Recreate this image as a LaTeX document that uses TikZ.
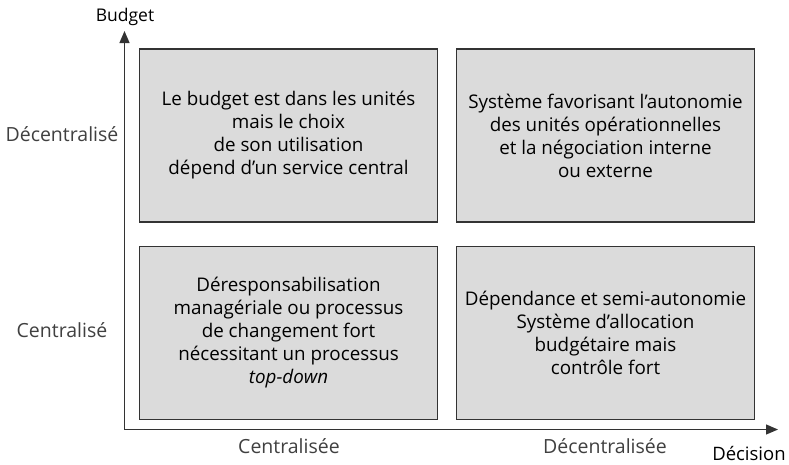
\documentclass[tikz,border=0pt]{standalone}
\usepackage{fontspec}
\setmainfont{Open Sans}
\usetikzlibrary{arrows.meta}
\begin{document}
\begin{tikzpicture}[x=1pt,y=-1pt,
  quad/.style={draw=black!80,line width=1.3pt,fill=black!14,minimum width=298pt,minimum height=173pt,align=center,font=\fontsize{18.8}{23}\selectfont,inner sep=0pt},
  axlab/.style={font=\fontsize{19.5}{20}\selectfont,text=black!75},
  axname/.style={font=\fontsize{17.5}{18}\selectfont,text=black},
  axis/.style={draw=black!80,line width=1.2pt,-{Triangle[length=12pt,width=10pt]}}]
\useasboundingbox (0,0) rectangle (789,464);
\coordinate (O) at (124.5,429.5);
\coordinate (ytip) at (124.5,31);
\coordinate (xtip) at (778,429.5);
\draw[axis] (O) -- (ytip);
\draw[axis] (O) -- (xtip);
\node[quad] (tl) at (288.5,135.5) {Le budget est dans les unités\\mais le choix\\de son utilisation\\dépend d’un service central};
\node[quad] (tr) at (605.5,135.5) {Système favorisant l’autonomie\\des unités opérationnelles\\et la négociation interne\\ou externe};
\node[quad] (bl) at (288.5,333) {Déresponsabilisation\\managériale ou processus\\de changement fort\\nécessitant un processus\\\textit{top-down}};
\node[quad] (br) at (605.5,333) {Dépendance et semi-autonomie\\Système d’allocation\\budgétaire mais\\contrôle fort};
\node[axname] (yl) at (125,17) {Budget};
\node[axname,font=\fontsize{18.5}{19}\selectfont] (xl) at (749,453) {Décision};
\node[axlab] (dec) at (62,134) {Décentralisé};
\node[axlab] (cen) at (62,330) {Centralisé};
\node[axlab] (cx) at (289,446) {Centralisée};
\node[axlab] (dx) at (605,446) {Décentralisée};
\end{tikzpicture}
\end{document}
